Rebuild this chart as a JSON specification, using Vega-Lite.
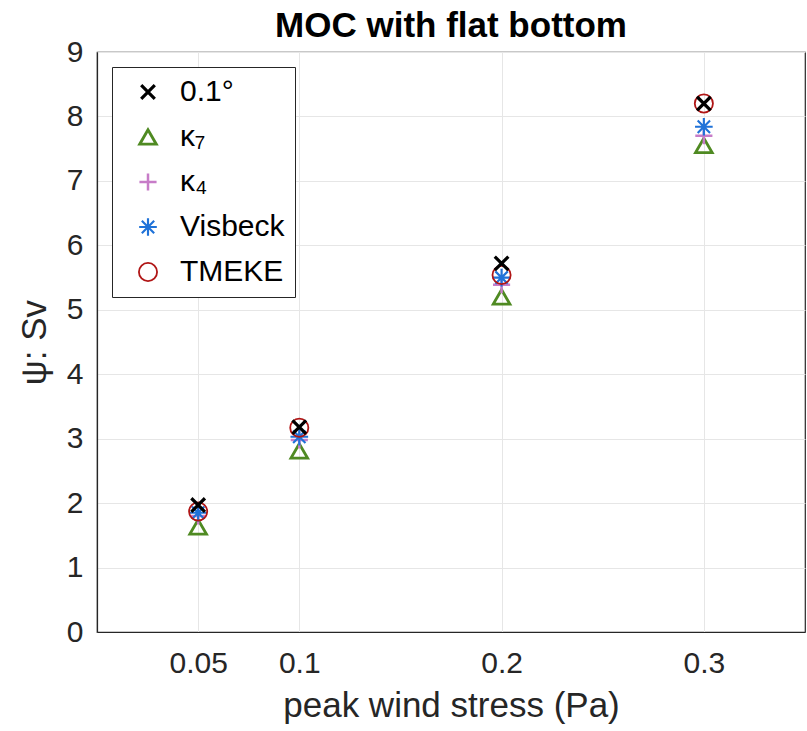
{
  "$schema": "https://vega.github.io/schema/vega-lite/v6.json",
  "width": 708,
  "height": 580,
  "autosize": {"type": "none"},
  "padding": {"left": 97, "top": 52, "right": 2, "bottom": 99},
  "background": "white",
  "title": {
    "text": "MOC with flat bottom",
    "font": "Liberation Sans",
    "fontSize": 35,
    "fontWeight": "bold",
    "color": "#000000",
    "anchor": "middle",
    "offset": -7
  },
  "config": {
    "view": {"stroke": "#262626", "strokeWidth": 1.2},
    "font": "Liberation Sans",
    "axis": {
      "labelFont": "Liberation Sans",
      "titleFont": "Liberation Sans",
      "labelFontSize": 30,
      "titleFontSize": 35,
      "titleFontWeight": "normal",
      "labelColor": "#262626",
      "titleColor": "#262626",
      "domainColor": "#262626",
      "domainWidth": 1.2,
      "gridColor": "#e6e6e6",
      "gridWidth": 1,
      "ticks": false
    }
  },
  "data": {
    "values": [
      {"x": 0.05, "y": 1.63, "series": "κ₇"},
      {"x": 0.1, "y": 2.81, "series": "κ₇"},
      {"x": 0.2, "y": 5.2, "series": "κ₇"},
      {"x": 0.3, "y": 7.55, "series": "κ₇"},
      {"x": 0.05, "y": 1.8, "series": "κ₄"},
      {"x": 0.1, "y": 2.98, "series": "κ₄"},
      {"x": 0.2, "y": 5.39, "series": "κ₄"},
      {"x": 0.3, "y": 7.7, "series": "κ₄"},
      {"x": 0.05, "y": 1.85, "series": "Visbeck"},
      {"x": 0.1, "y": 3.03, "series": "Visbeck"},
      {"x": 0.2, "y": 5.5, "series": "Visbeck"},
      {"x": 0.3, "y": 7.84, "series": "Visbeck"},
      {"x": 0.05, "y": 1.87, "series": "TMEKE"},
      {"x": 0.1, "y": 3.17, "series": "TMEKE"},
      {"x": 0.2, "y": 5.54, "series": "TMEKE"},
      {"x": 0.3, "y": 8.2, "series": "TMEKE"},
      {"x": 0.05, "y": 1.97, "series": "0.1°"},
      {"x": 0.1, "y": 3.18, "series": "0.1°"},
      {"x": 0.2, "y": 5.72, "series": "0.1°"},
      {"x": 0.3, "y": 8.2, "series": "0.1°"}
    ]
  },
  "mark": {"type": "point", "filled": false, "opacity": 1},
  "encoding": {
    "x": {
      "field": "x",
      "type": "quantitative",
      "scale": {"domain": [0, 0.35], "nice": false, "zero": false},
      "axis": {
        "values": [0.05, 0.1, 0.2, 0.3],
        "format": "~g",
        "labelPadding": 16,
        "title": "peak wind stress (Pa)",
        "titlePadding": 10
      }
    },
    "y": {
      "field": "y",
      "type": "quantitative",
      "scale": {"domain": [0, 9], "nice": false},
      "axis": {
        "values": [0, 1, 2, 3, 4, 5, 6, 7, 8, 9],
        "labelPadding": 14,
        "title": "ψ: Sv",
        "titlePadding": 14
      }
    },
    "color": {
      "field": "series",
      "type": "nominal",
      "scale": {
        "domain": ["0.1°", "κ₇", "κ₄", "Visbeck", "TMEKE"],
        "range": ["#000000", "#4f8a22", "#c77cc8", "#1f72d8", "#b01515"]
      },
      "legend": {
        "title": null,
        "orient": "none",
        "legendX": 15,
        "legendY": 15,
        "direction": "vertical",
        "fillColor": "white",
        "strokeColor": "#262626",
        "padding": 10,
        "rowPadding": 15,
        "symbolOffset": 11,
        "labelOffset": 17,
        "labelFont": "Liberation Sans",
        "labelFontSize": 30,
        "labelColor": "#000000",
        "labelLimit": 300
      }
    },
    "shape": {
      "field": "series",
      "type": "nominal",
      "scale": {
        "domain": ["0.1°", "κ₇", "κ₄", "Visbeck", "TMEKE"],
        "range": [
          "M-0.85,-0.85L0.85,0.85M-0.85,0.85L0.85,-0.85",
          "triangle-up",
          "M-1,0L1,0M0,-1L0,1",
          "M-1,0L1,0M0,-1L0,1M-0.7,-0.7L0.7,0.7M-0.7,0.7L0.7,-0.7",
          "circle"
        ]
      }
    },
    "size": {
      "field": "series",
      "type": "nominal",
      "scale": {
        "domain": ["0.1°", "κ₇", "κ₄", "Visbeck", "TMEKE"],
        "range": [256, 330, 230, 200, 270]
      }
    },
    "strokeWidth": {
      "field": "series",
      "type": "nominal",
      "scale": {
        "domain": ["0.1°", "κ₇", "κ₄", "Visbeck", "TMEKE"],
        "range": [3.2, 1.8, 1.6, 1.8, 1.8]
      }
    }
  }
}
